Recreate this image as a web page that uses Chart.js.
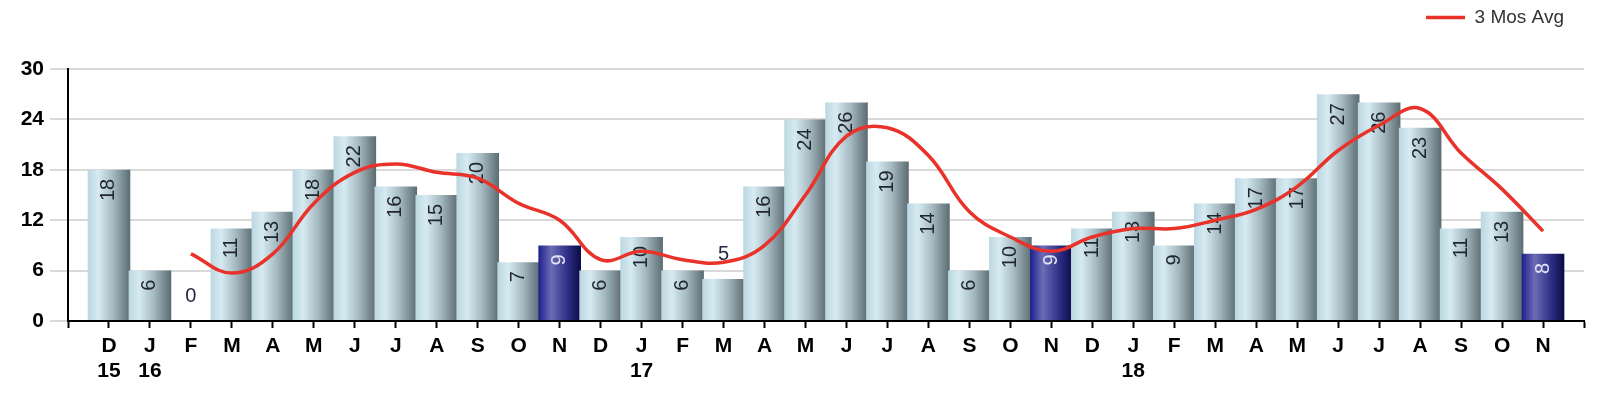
<!DOCTYPE html>
<html lang="en">
<head>
<meta charset="UTF-8">
<title>Monthly count with 3 month average</title>
<script src="https://cdn.jsdelivr.net/npm/chart.js@4.4.1/dist/chart.umd.min.js"></script>
<style>
  html, body { margin: 0; padding: 0; background: #fff; }
</style>
</head>
<body>
<canvas id="chart" width="1600" height="393"></canvas>
<script>
// one entry per month, Dec 2015 .. Nov 2018
var monthLabels = ['D','J','F','M','A','M','J','J','A','S','O','N',
                   'D','J','F','M','A','M','J','J','A','S','O','N',
                   'D','J','F','M','A','M','J','J','A','S','O','N'];
var yearLabels  = ['15','16','','','','','','','','','','',
                   '','17','','','','','','','','','','',
                   '','18','','','','','','','','','',''];
var counts = [18, 6, 0, 11, 13, 18, 22, 16, 15, 20, 7, 9,
              6, 10, 6, 5, 16, 24, 26, 19, 14, 6, 10, 9,
              11, 13, 9, 14, 17, 17, 27, 26, 23, 11, 13, 8];
var avg3 = [null, null, 8, 5.7, 8, 14, 17.7, 18.7, 17.7, 17, 14, 12,
            7.3, 8.3, 7.3, 7, 9, 15, 22, 23, 19.7, 13, 10, 8.3,
            10, 11, 11, 12, 13.3, 16, 20.3, 23.3, 25.3, 20, 15.7, 10.7];
var highlighted = [11, 23, 35];   // the November bars
var yTicks = [0, 6, 12, 18, 24, 30];

Chart.defaults.font.family = "Arial, 'Liberation Sans', sans-serif";

// an empty slot at each end of the axis
var labels = [''].concat(monthLabels.map(function(m, i) {
  return yearLabels[i] ? [m, yearLabels[i]] : m;
}), ['']);
var barData = [null].concat(counts, [null]);
var lineData = [null].concat(avg3, [null]);

function isHi(i) { return highlighted.indexOf(i - 1) >= 0; }

function barFill(ctx) {
  var chart = ctx.chart, xs = chart.scales.x;
  var i = ctx.dataIndex;
  var hi = isHi(i);
  if (!xs || i === undefined || !chart.chartArea) return hi ? '#2a2a90' : '#a9c2cb';
  var cx = xs.getPixelForValue(i);
  var half = (xs.getPixelForValue(1) - xs.getPixelForValue(0)) * 1.04 / 2;
  var g = chart.ctx.createLinearGradient(cx - half, 0, cx + half, 0);
  if (hi) {
    g.addColorStop(0, '#1e1e8c');
    g.addColorStop(0.3, '#6c6cb6');
    g.addColorStop(0.7, '#2c2c84');
    g.addColorStop(1, '#0b0b46');
  } else {
    g.addColorStop(0, '#bcd7e1');
    g.addColorStop(0.25, '#d6eaf1');
    g.addColorStop(0.6, '#a3b8bf');
    g.addColorStop(1, '#5b6b71');
  }
  return g;
}

// value labels, drawn before the line so the line passes over them
var barLabels = {
  id: 'barLabels',
  afterDatasetDraw: function(chart, args) {
    if (args.index !== 0) return;
    var c = chart.ctx;
    c.save();
    c.font = "20px Arial, 'Liberation Sans', sans-serif";
    args.meta.data.forEach(function(bar, i) {
      var v = barData[i];
      if (v === null || v === undefined) return;
      var txt = String(v);
      var tw = c.measureText(txt).width;
      var h = bar.base - bar.y;
      if (h > tw + 34) {
        c.fillStyle = isHi(i) ? '#e4e4f4' : '#1f2430';
        c.save();
        c.translate(bar.x, bar.y + 9);
        c.rotate(-Math.PI / 2);
        c.textAlign = 'right';
        c.textBaseline = 'middle';
        c.fillText(txt, 0, 0);
        c.restore();
      } else {
        c.fillStyle = '#222a44';
        c.textAlign = 'center';
        c.textBaseline = 'bottom';
        c.fillText(txt, bar.x, bar.y - 15);
      }
    });
    c.restore();
  }
};

// keep the legend in the top strip and leave the gap above the plot
var legendSpace = {
  id: 'legendSpace',
  afterInit: function(chart) {
    var lg = chart.legend;
    if (!lg) return;
    var fit = lg.fit;
    lg.fit = function() { fit.call(this); this.height = 69; };
  },
  afterLayout: function(chart) {
    if (chart.legend) chart.legend.right -= 12;
  }
};

new Chart(document.getElementById('chart'), {
  type: 'bar',
  data: {
    labels: labels,
    datasets: [{
      label: 'Count',
      data: barData,
      backgroundColor: barFill,
      borderWidth: 0,
      barPercentage: 1,
      categoryPercentage: 1.04,
      order: 1
    }, {
      type: 'line',
      label: '3 Mos Avg',
      data: lineData,
      borderColor: '#e8322a',
      backgroundColor: '#e8322a',
      borderWidth: 3.5,
      pointRadius: 0,
      pointStyle: 'line',
      tension: 0.4,
      fill: false,
      order: 0
    }]
  },
  options: {
    responsive: false,
    animation: false,
    devicePixelRatio: 1,
    layout: { padding: { top: 0, right: 16, bottom: 0, left: 0 } },
    plugins: {
      tooltip: { enabled: false },
      legend: {
        position: 'top',
        align: 'end',
        labels: {
          usePointStyle: true,
          pointStyle: 'line',
          pointStyleWidth: 39,
          padding: 8,
          color: '#333',
          font: { size: 19 },
          filter: function(item) { return item.datasetIndex === 1; }
        }
      }
    },
    scales: {
      x: {
        offset: false,
        grid: { offset: false, drawOnChartArea: false, drawTicks: true,
                tickLength: 7, tickColor: '#000', tickWidth: 2 },
        border: { color: '#000', width: 2 },
        ticks: { autoSkip: false, maxRotation: 0, minRotation: 0, padding: 5,
                 color: '#000', font: { size: 21, weight: 'bold', lineHeight: 1.22 } },
        afterFit: function(s) { s.height = 72; }
      },
      y: {
        min: 0,
        max: 30,
        afterBuildTicks: function(s) { s.ticks = yTicks.map(function(v) { return { value: v }; }); },
        grid: { color: '#d9d9d9', lineWidth: 2, tickLength: 18, tickColor: '#d9d9d9' },
        border: { color: '#000', width: 2 },
        ticks: { padding: 6, color: '#000', font: { size: 21, weight: 'bold' } },
        afterFit: function(s) { s.width = 68; }
      }
    }
  },
  plugins: [barLabels, legendSpace]
});
</script>
</body>
</html>
